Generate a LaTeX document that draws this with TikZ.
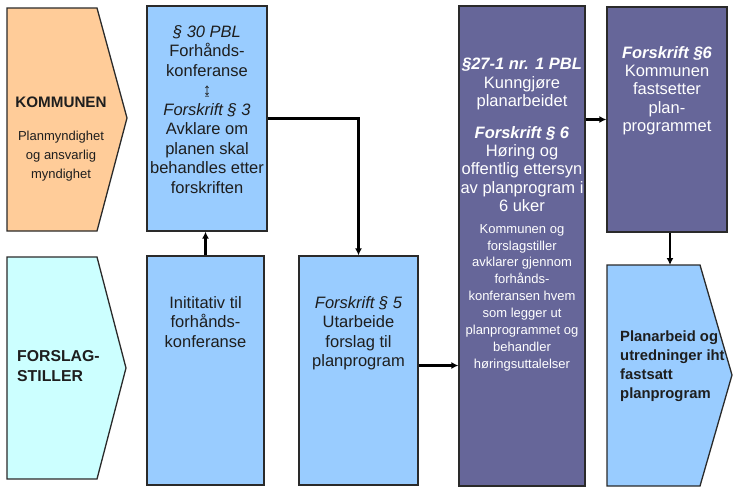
\documentclass[tikz,border=0pt]{standalone}
\usepackage{fontspec}
\setmainfont{Liberation Sans}
\usetikzlibrary{arrows.meta}
\definecolor{orangefill}{HTML}{FFCC99}
\definecolor{cyanfill}{HTML}{CCFFFF}
\definecolor{bluefill}{HTML}{99CCFF}
\definecolor{purplefill}{HTML}{666699}
\definecolor{edge}{HTML}{2A2A2A}
\definecolor{txt}{HTML}{1E1E1E}
\tikzset{
  box/.style={draw=edge, line width=1.3pt, inner sep=0pt},
  bluebox/.style={box, fill=bluefill},
  purplebox/.style={box, fill=purplefill},
  pent/.style={draw=edge, line width=1.3pt},
  bigtxt/.style={inner sep=0pt, anchor=north, align=center, text=txt, font=\fontsize{16.5}{19.5}\selectfont},
  wbigtxt/.style={bigtxt, text=white, font=\fontsize{16.5}{18.3}\selectfont},
  wsmalltxt/.style={inner sep=0pt, anchor=north, align=center, text=white, font=\fontsize{13}{16.9}\selectfont},
  conn/.style={line width=2.4pt, -{Latex[length=7pt,width=7pt]}},
}
\begin{document}
\begin{tikzpicture}[x=1pt,y=-1pt]
\useasboundingbox (0,0) rectangle (747,498);
% left pentagons
\path[pent, fill=orangefill] (7,8) -- (97,8) -- (127,118) -- (97,231) -- (7,231) -- cycle;
\path[pent, fill=cyanfill] (7,257) -- (97,257) -- (126,368) -- (97,479) -- (7,479) -- cycle;
\node[inner sep=0pt, anchor=north, text=txt, font=\bfseries\fontsize{15.2}{18}\selectfont] (kom) at (61,97) {KOMMUNEN};
\node[inner sep=0pt, anchor=north, align=center, text=txt, font=\fontsize{13}{18.7}\selectfont] (komsub) at (61,131) {Planmyndighet\\og ansvarlig\\myndighet};
\node[inner sep=0pt, anchor=north west, align=left, text=txt, font=\bfseries\fontsize{15.8}{20}\selectfont] (fors) at (17,350) {FORSLAG-\\STILLER};
% boxes
\node[bluebox, minimum width=120pt, minimum height=225pt] (box1) at (207,118.5) {};
\node[bluebox, minimum width=117pt, minimum height=229pt] (box2) at (205.5,370.5) {};
\node[bluebox, minimum width=119pt, minimum height=229pt] (box3) at (358.5,370.5) {};
\node[purplebox, minimum width=126pt, minimum height=480pt] (box4) at (522,246) {};
\node[purplebox, minimum width=120pt, minimum height=225pt] (box5) at (667,119.5) {};
\path[pent, fill=bluefill] (607,265) -- (700,265) -- (732,375) -- (700,486) -- (607,486) -- cycle;
\coordinate (b6top) at (670,265);
% texts
\node[bigtxt] (t1) at (207,25) {\textit{§ 30 PBL}\\Forhånds-\\konferanse\\{\fontsize{17}{19.5}\selectfont ↨}\\\textit{Forskrift § 3}\\Avklare om\\planen skal\\behandles etter\\forskriften};
\node[bigtxt] (t2) at (205.5,296) {Inititativ til\\forhånds-\\konferanse};
\node[bigtxt] (t3) at (358.5,296) {\textit{Forskrift § 5}\\Utarbeide\\forslag til\\planprogram};
\node[wbigtxt] (t4) at (522,58) {\textbf{\textit{§27-1 nr. 1 PBL}}\\Kunngjøre\\planarbeidet\\[13.7pt]\textbf{\textit{Forskrift § 6}}\\Høring og\\offentlig ettersyn\\av planprogram i\\6 uker};
\node[wsmalltxt] (t4b) at (522,224) {Kommunen og\\forslagstiller\\avklarer gjennom\\forhånds-\\konferansen hvem\\som legger ut\\planprogrammet og\\behandler\\høringsuttalelser};
\node[wbigtxt] (t5) at (667,46) {\textbf{\textit{Forskrift §6}}\\Kommunen\\fastsetter\\plan-\\programmet};
\node[inner sep=0pt, anchor=north west, align=left, text=txt, font=\bfseries\fontsize{14.8}{19}\selectfont] (t6) at (620,331) {Planarbeid og\\utredninger iht\\fastsatt\\planprogram};
% connectors
\draw[conn] (box2.north) -- (box2.north |- box1.south);
\draw[conn] (box1.east) -| (box3.north);
\draw[conn] ([yshift=5pt]box3.east) -- ([yshift=5pt]box3.east -| box4.west);
\draw[conn] (box4.east |- box5.west) -- (box5.west);
\draw[conn] (box5.south -| b6top) -- (b6top);
\end{tikzpicture}
\end{document}
